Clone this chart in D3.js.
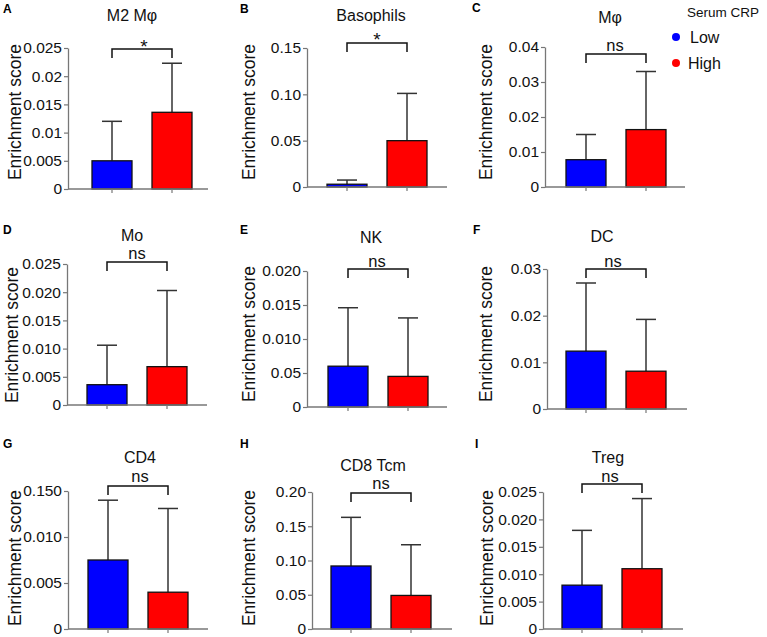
<!DOCTYPE html>
<html>
<head>
<meta charset="utf-8">
<script src="https://cdn.jsdelivr.net/npm/d3@7"></script>
<style>
  body { margin: 0; background: #fff; }
  svg { display: block; font-family: "Liberation Sans", Arial, sans-serif; }
</style>
</head>
<body>
<svg id="chart" width="767" height="637"></svg>
<script>
// Panel data
const panelIds = ["A", "B", "C", "D", "E", "F", "G", "H", "I"];
const titles = ["M2 M\u03c6", "Basophils", "M\u03c6", "Mo", "NK", "DC", "CD4", "CD8 Tcm", "Treg"];
const groups = ["Low", "High"];
const lowMean = [0.005, 0.003, 0.0078, 0.0036, 0.006, 0.0124, 0.0075, 0.092, 0.008];
const lowUpper = [0.012, 0.0075, 0.015, 0.0106, 0.0146, 0.027, 0.0140, 0.163, 0.018];
const highMean = [0.0136, 0.05, 0.0164, 0.0068, 0.0045, 0.0081, 0.0040, 0.049, 0.011];
const highUpper = [0.0223, 0.101, 0.033, 0.0203, 0.0131, 0.0192, 0.0131, 0.123, 0.0238];
const signif = ["*", "*", "ns", "ns", "ns", "ns", "ns", "ns", "ns"];
const yMax = [0.025, 0.15, 0.04, 0.025, 0.020, 0.03, 0.015, 0.20, 0.025];
const tickValues = [
    [0, 0.005, 0.01, 0.015, 0.02, 0.025],
    [0, 0.05, 0.10, 0.15],
    [0, 0.01, 0.02, 0.03, 0.04],
    [0, 0.005, 0.010, 0.015, 0.020, 0.025],
    [0, 0.005, 0.010, 0.015, 0.020],
    [0, 0.01, 0.02, 0.03],
    [0, 0.005, 0.010, 0.015],
    [0, 0.05, 0.10, 0.15, 0.20],
    [0, 0.005, 0.010, 0.015, 0.020, 0.025]
];
const tickLabels = [
    ["0", "0.005", "0.01", "0.015", "0.02", "0.025"],
    ["0", "0.05", "0.10", "0.15"],
    ["0", "0.01", "0.02", "0.03", "0.04"],
    ["0", "0.005", "0.010", "0.015", "0.020", "0.025"],
    ["0", "0.05", "0.010", "0.015", "0.020"],
    ["0", "0.01", "0.02", "0.03"],
    ["0", "0.005", "0.010", "0.150"],
    ["0", "0.05", "0.10", "0.15", "0.20"],
    ["0", "0.005", "0.010", "0.015", "0.020", "0.025"]
];
const legendTitle = "Serum CRP";
const yLabel = "Enrichment score";

// Layout (pixel positions per panel)
const layout = [
    { ax: 68,  top: 48,  bot: 189, shift: 44, title: [132, 21],  sig: [144, 53],  br: 49,  letter: [3, 13],    ylab: [21, 112] },
    { ax: 307, top: 48,  bot: 187, shift: 40, title: [371, 21],  sig: [377, 46],  br: 43,  letter: [240, 13],  ylab: [255, 112] },
    { ax: 545, top: 47,  bot: 187, shift: 41, title: [610, 23],  sig: [615, 51],  br: 54,  letter: [472, 12],  ylab: [492, 112] },
    { ax: 67,  top: 264, bot: 405, shift: 40, title: [132, 241], sig: [137, 259], br: 262, letter: [3, 234],   ylab: [18, 335] },
    { ax: 307, top: 271, bot: 407, shift: 41, title: [371, 243], sig: [377, 267], br: 269, letter: [240, 234], ylab: [255, 334] },
    { ax: 547, top: 269, bot: 409, shift: 39, title: [602, 242], sig: [613, 267], br: 269, letter: [473, 234], ylab: [492, 334] },
    { ax: 68,  top: 491, bot: 629, shift: 40, title: [140, 463], sig: [140, 482], br: 486, letter: [3, 448],   ylab: [21, 558] },
    { ax: 312, top: 492, bot: 629, shift: 39, title: [373, 471], sig: [381, 489], br: 493, letter: [240, 448], ylab: [255, 558] },
    { ax: 543, top: 492, bot: 629, shift: 39, title: [608, 463], sig: [610, 482], br: 484, letter: [475, 448], ylab: [493, 558] }
];
const colors = { Low: "#0000ff", High: "#ff0000" };

const svg = d3.select("#chart");

panelIds.forEach((id, i) => {
    const L = layout[i];
    const g = svg.append("g");

    const y = d3.scaleLinear()
        .domain([0, yMax[i]])
        .range([L.bot, L.top]);

    const x = d3.scaleBand()
        .domain(groups)
        .range([L.ax + L.shift - 30, L.ax + L.shift + 90])
        .paddingInner(1 / 3)
        .paddingOuter(1 / 6);

    const rows = [
        { group: "Low", mean: lowMean[i], upper: lowUpper[i] },
        { group: "High", mean: highMean[i], upper: highUpper[i] }
    ];

    // error bars (drawn first so the bar covers the lower part)
    rows.forEach(d => {
        const cx = x(d.group) + x.bandwidth() / 2;
        g.append("line")
            .attr("x1", cx).attr("x2", cx)
            .attr("y1", y(d.mean)).attr("y2", y(d.upper))
            .attr("stroke", "#333").attr("stroke-width", 1.5);
        g.append("line")
            .attr("x1", cx - 10).attr("x2", cx + 10)
            .attr("y1", y(d.upper)).attr("y2", y(d.upper))
            .attr("stroke", "#333").attr("stroke-width", 1.5);
    });

    g.selectAll(".bar")
        .data(rows)
        .enter()
        .append("rect")
        .attr("class", "bar")
        .attr("x", d => x(d.group))
        .attr("y", d => y(d.mean))
        .attr("width", x.bandwidth())
        .attr("height", d => y(0) - y(d.mean))
        .attr("fill", d => colors[d.group])
        .attr("stroke", "#111")
        .attr("stroke-width", 1.3);

    // y axis
    const yAxis = g.append("g")
        .attr("transform", `translate(${L.ax},0)`)
        .call(d3.axisLeft(y)
            .tickValues(tickValues[i])
            .tickFormat((d, k) => tickLabels[i][k])
            .tickSize(4)
            .tickSizeOuter(0)
            .tickPadding(2));
    yAxis.select(".domain").attr("stroke", "#777").attr("stroke-width", 1.3);
    yAxis.selectAll(".tick line").attr("stroke", "#777").attr("stroke-width", 1.2);
    yAxis.selectAll("text")
        .attr("fill", "#111")
        .style("font-size", "15.5px")
        .style("font-family", "'Liberation Sans', Arial, sans-serif");

    // x axis
    const xAxis = g.append("g")
        .attr("transform", `translate(0,${L.bot})`)
        .call(d3.axisBottom(x).tickFormat("").tickSize(4).tickSizeOuter(0));
    xAxis.select(".domain").remove();
    xAxis.selectAll(".tick line").attr("stroke", "#777").attr("stroke-width", 1.2);
    g.append("line")
        .attr("x1", L.ax).attr("x2", L.ax + 140)
        .attr("y1", L.bot).attr("y2", L.bot)
        .attr("stroke", "#777").attr("stroke-width", 1.3);

    // significance bracket
    const x1 = x("Low") + x.bandwidth() / 2;
    const x2 = x("High") + x.bandwidth() / 2;
    g.append("path")
        .attr("d", `M${x1},${L.br + 9}V${L.br}H${x2}V${L.br + 9}`)
        .attr("fill", "none")
        .attr("stroke", "#111")
        .attr("stroke-width", 1.5);

    g.append("text")
        .attr("x", L.sig[0])
        .attr("y", L.sig[1])
        .attr("text-anchor", "middle")
        .style("font-size", signif[i] === "*" ? "19px" : "16.5px")
        .attr("fill", "#111")
        .text(signif[i]);

    // title
    g.append("text")
        .attr("x", L.title[0])
        .attr("y", L.title[1])
        .attr("text-anchor", "middle")
        .style("font-size", "16px")
        .attr("fill", "#111")
        .text(titles[i]);

    // panel letter
    g.append("text")
        .attr("x", L.letter[0])
        .attr("y", L.letter[1])
        .style("font-size", "12px")
        .style("font-weight", "bold")
        .attr("fill", "#000")
        .text(id);

    // y label
    g.append("text")
        .attr("transform", `translate(${L.ylab[0]},${L.ylab[1]}) rotate(-90)`)
        .attr("text-anchor", "middle")
        .style("font-size", "17.5px")
        .attr("fill", "#111")
        .text(yLabel);
});

// Legend
const legend = svg.append("g");
legend.append("text")
    .attr("x", 687).attr("y", 17)
    .style("font-size", "13.5px")
    .attr("fill", "#111")
    .text(legendTitle);

legend.selectAll(".legend-item")
    .data(groups)
    .enter()
    .append("g")
    .attr("class", "legend-item")
    .attr("transform", (d, k) => `translate(676, ${37 + k * 26})`)
    .each(function (d) {
        const item = d3.select(this);
        item.append("circle")
            .attr("r", 4)
            .attr("fill", colors[d]);
        item.append("text")
            .attr("x", d === "Low" ? 14 : 12)
            .attr("y", 6)
            .style("font-size", "16px")
            .attr("fill", "#111")
            .text(d);
    });
</script>
</body>
</html>
